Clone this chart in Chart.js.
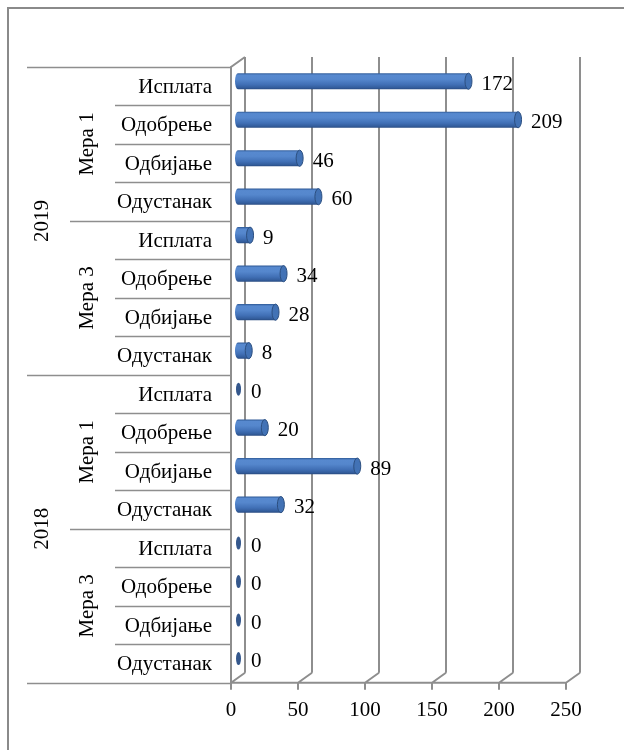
<!DOCTYPE html>
<html>
<head>
<meta charset="utf-8">
<script src="https://cdn.jsdelivr.net/npm/chart.js@4"></script>
<style>
  html, body { margin: 0; padding: 0; background: #fff; }
  #wrap { width: 624px; height: 750px; position: relative; }
</style>
</head>
<body>
<div id="wrap"><canvas id="bar-chart" width="624" height="750"></canvas></div>
<script>
// rows, top to bottom
var categories = [
    'Исплата', 'Одобрење', 'Одбијање', 'Одустанак',
    'Исплата', 'Одобрење', 'Одбијање', 'Одустанак',
    'Исплата', 'Одобрење', 'Одбијање', 'Одустанак',
    'Исплата', 'Одобрење', 'Одбијање', 'Одустанак'
];
var measures = ['Мера 1', 'Мера 3', 'Мера 1', 'Мера 3'];
var years = ['2019', '2018'];
var values = [172, 209, 46, 60, 9, 34, 28, 8, 0, 20, 89, 32, 0, 0, 0, 0];
var xTicks = [0, 50, 100, 150, 200, 250];

var FONT = '"Times New Roman", "Liberation Serif", serif';
var DX = 7, DY = 5;        // half depth of the 3d box
var GRID = '#8e8e8e';
var BAR_PCT = 0.42;

function barGradient(c) {
    var ch = c.chart;
    var ys = ch.scales.y;
    if (!ys || !ch.chartArea) return '#4f81bd';
    var yc = ys.getPixelForValue(c.dataIndex);
    var h = (ch.chartArea.bottom - ch.chartArea.top) / categories.length * BAR_PCT;
    var g = ch.ctx.createLinearGradient(0, yc - h / 2, 0, yc + h / 2);
    g.addColorStop(0, '#2f5a97');
    g.addColorStop(0.12, '#5789cf');
    g.addColorStop(0.38, '#5587cd');
    g.addColorStop(0.7, '#4170b6');
    g.addColorStop(0.9, '#335d9c');
    g.addColorStop(1, '#284a80');
    return g;
}

var box3d = {
    id: 'box3d',
    beforeDatasetsDraw: function (chart) {
        var ctx = chart.ctx, a = chart.chartArea, xs = chart.scales.x, ys = chart.scales.y;
        ctx.save();
        // outer frame
        ctx.strokeStyle = '#8a8a8a';
        ctx.lineWidth = 2;
        ctx.strokeRect(8, 8, 700, 800);

        var fTop = a.top + DY, fBot = a.bottom + DY;
        var bTop = a.top - DY, bBot = a.bottom - DY;
        ctx.strokeStyle = GRID;
        ctx.lineWidth = 2;
        ctx.beginPath();
        xTicks.forEach(function (v) {
            var px = Math.round(xs.getPixelForValue(v));
            // back wall line
            ctx.moveTo(px + DX, bTop);
            ctx.lineTo(px + DX, bBot);
            // floor diagonal
            ctx.moveTo(px - DX, fBot);
            ctx.lineTo(px + DX, bBot);
            // tick mark
            ctx.moveTo(px - DX, fBot);
            ctx.lineTo(px - DX, fBot + 7);
        });
        var x0 = Math.round(xs.getPixelForValue(0));
        var x250 = Math.round(xs.getPixelForValue(250));
        ctx.moveTo(x0 - DX, fBot);
        ctx.lineTo(x250 - DX, fBot);
        // left wall
        ctx.moveTo(x0 - DX, fBot);
        ctx.lineTo(x0 - DX, fTop);
        ctx.lineTo(x0 + DX, bTop);
        ctx.stroke();

        // category table lines
        var band = (a.bottom - a.top) / categories.length;
        ctx.lineWidth = 1.5;
        ctx.beginPath();
        for (var i = 0; i <= categories.length; i++) {
            var y = Math.round(a.top + i * band + DY) + 0.5;
            var from = i % 8 === 0 ? 27 : (i % 4 === 0 ? 70 : 115);
            ctx.moveTo(from, y);
            ctx.lineTo(x0 - DX, y);
        }
        ctx.stroke();

        // labels
        ctx.fillStyle = '#000';
        ctx.font = '21px ' + FONT;
        ctx.textAlign = 'right';
        ctx.textBaseline = 'middle';
        categories.forEach(function (c, i) {
            ctx.fillText(c, 212, ys.getPixelForValue(i) + DY + 1);
        });
        ctx.textAlign = 'center';
        measures.forEach(function (m, i) {
            var yc = a.top + (i * 4 + 2) * band + DY;
            ctx.save();
            ctx.translate(87, yc);
            ctx.rotate(-Math.PI / 2);
            ctx.fillText(m, 0, 0);
            ctx.restore();
        });
        years.forEach(function (yr, i) {
            var yc = a.top + (i * 8 + 4) * band + DY;
            ctx.save();
            ctx.translate(42, yc);
            ctx.rotate(-Math.PI / 2);
            ctx.fillText(yr, 0, 0);
            ctx.restore();
        });
        ctx.restore();
    },
    afterDatasetsDraw: function (chart) {
        var ctx = chart.ctx;
        var meta = chart.getDatasetMeta(0);
        ctx.save();
        meta.data.forEach(function (el, i) {
            var h = el.height, yc = el.y;
            if (values[i] === 0) {
                ctx.fillStyle = '#34578c';
                ctx.beginPath();
                ctx.ellipse(el.base + 0.5, yc, 2.5, 6.5, 0, 0, Math.PI * 2);
                ctx.fill();
            } else {
                // left rounded end
                ctx.fillStyle = barGradient({ chart: chart, dataIndex: i });
                ctx.beginPath();
                ctx.ellipse(el.base, yc, 3, h / 2, 0, Math.PI / 2, Math.PI * 1.5);
                ctx.fill();
                // right cap
                ctx.beginPath();
                ctx.ellipse(el.x, yc, 3.5, h / 2, 0, 0, Math.PI * 2);
                ctx.fillStyle = '#4272b5';
                ctx.fill();
                ctx.strokeStyle = '#2c4f80';
                ctx.lineWidth = 1;
                ctx.stroke();
            }
            // value label
            ctx.fillStyle = '#000';
            ctx.font = '21px ' + FONT;
            ctx.textAlign = 'left';
            ctx.textBaseline = 'middle';
            ctx.fillText(String(values[i]), el.x + 13, yc + 3);
        });
        ctx.restore();
    }
};

new Chart(document.getElementById('bar-chart').getContext('2d'), {
    type: 'bar',
    data: {
        labels: categories,
        datasets: [{
            data: values,
            backgroundColor: barGradient,
            borderWidth: 0,
            barPercentage: BAR_PCT,
            categoryPercentage: 1
        }]
    },
    options: {
        indexAxis: 'y',
        responsive: false,
        animation: false,
        events: [],
        layout: { padding: { left: 238, right: 51, top: 62, bottom: 15 } },
        plugins: { legend: { display: false }, tooltip: { enabled: false } },
        scales: {
            x: {
                min: 0,
                max: 250,
                afterBuildTicks: function (s) { s.ticks = xTicks.map(function (v) { return { value: v }; }); },
                grid: { display: false },
                border: { display: false },
                ticks: {
                    color: '#000',
                    font: { family: FONT, size: 21 },
                    padding: 12,
                    labelOffset: -DX,
                    maxRotation: 0
                }
            },
            y: { display: false }
        }
    },
    plugins: [box3d]
});
</script>
</body>
</html>
